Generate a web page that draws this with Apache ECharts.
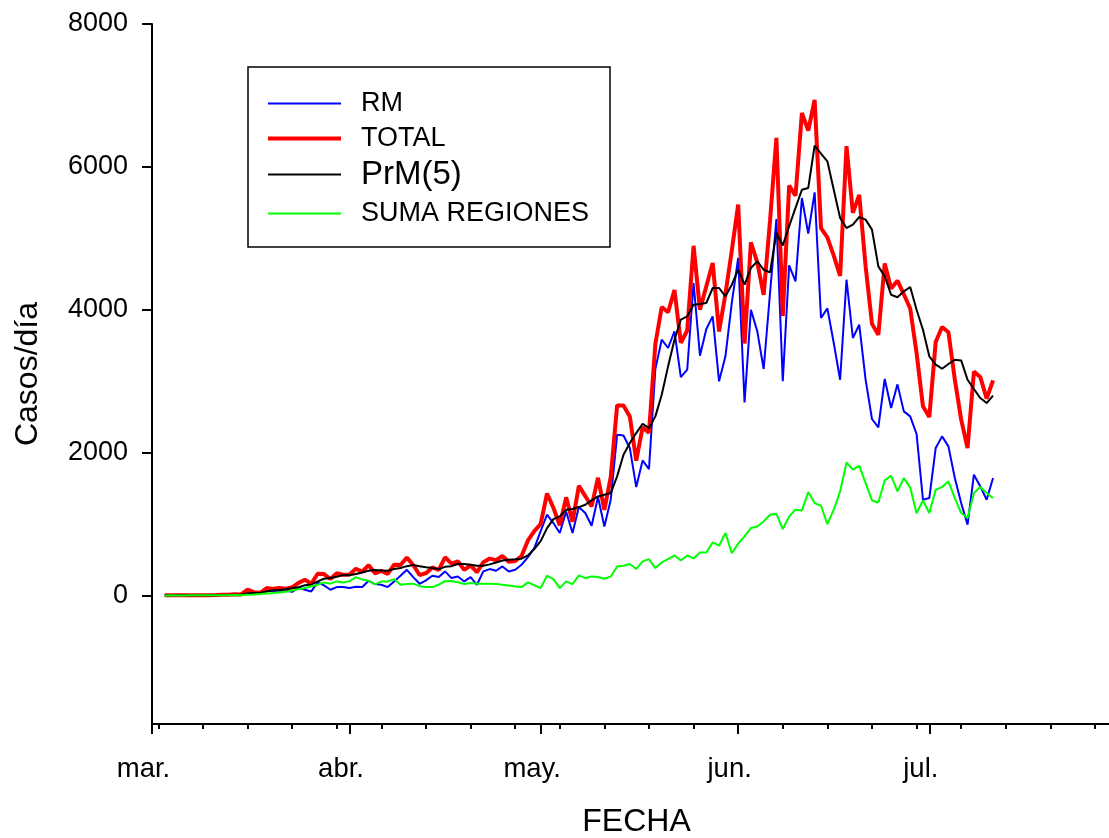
<!DOCTYPE html>
<html>
<head>
<meta charset="utf-8">
<script src="https://cdn.jsdelivr.net/npm/echarts@6/dist/echarts.min.js"></script>
<style>
  html, body { margin: 0; padding: 0; background: #fff; }
  #chart { width: 1109px; height: 838px; }
</style>
</head>
<body>
<div id="chart"></div>
<script>
// Casos diarios COVID-19, 3 de marzo a 11 de julio
const origen = '2020-03-01';
const fechaInicio = '2020-03-03';

const rm = [
  1, 1, 1, 1, 1, 2, 2, 3, 4, 7, 8, 12, 10, 55, 33, 28, 75, 60, 70, 65,
  50, 110, 80, 56, 182, 140, 80, 117, 117, 103, 120, 117, 205, 159, 149, 117, 196, 275, 359, 257,
  163, 210, 275, 257, 336, 243, 266, 196, 257, 149, 336, 369, 345, 406, 336, 359, 429, 537, 663, 900,
  1130, 1013, 873, 1176, 873, 1237, 1153, 976, 1377, 966, 1340, 2250, 2240, 2063, 1517, 1890, 1769, 3170, 3580, 3464,
  3697, 3057, 3160, 4374, 3357, 3730, 3907, 2997, 3347, 4100, 4724, 2703, 4000, 3697, 3170, 4234, 5270, 3000, 4622, 4397,
  5564, 5065, 5644, 3884, 4019, 3534, 3020, 4420, 3604, 3790, 3020, 2470, 2353, 3030, 2623, 2955, 2577, 2507, 2260, 1340,
  1363, 2063, 2227, 2087, 1643, 1293, 990, 1690, 1526, 1340, 1643
];

const total = [
  1, 2, 1, 1, 2, 3, 3, 4, 6, 10, 10, 18, 14, 80, 46, 37, 104, 92, 103, 95,
  114, 176, 220, 164, 304, 299, 230, 310, 289, 293, 373, 333, 424, 310, 344, 301, 430, 426, 529, 426,
  286, 312, 392, 356, 534, 445, 478, 358, 419, 325, 464, 516, 494, 552, 473, 482, 552, 770, 900, 1000,
  1427, 1228, 980, 1373, 1032, 1533, 1391, 1247, 1647, 1197, 1658, 2660, 2659, 2502, 1886, 2353, 2278, 3520, 4038, 3964,
  4276, 3536, 3709, 4895, 4000, 4328, 4654, 3695, 4220, 4830, 5471, 3527, 4942, 4664, 4207, 5246, 6405, 3913, 5737, 5596,
  6754, 6509, 6938, 5143, 5013, 4757, 4475, 6290, 5355, 5607, 4608, 3804, 3649, 4648, 4296, 4406, 4216, 4017, 3394, 2650,
  2498, 3548, 3758, 3685, 3025, 2462, 2064, 3133, 3058, 2755, 3012
];

const prm5 = [
  1, 1, 1, 1, 2, 2, 2, 3, 4, 5, 7, 10, 12, 27, 34, 39, 56, 72, 76, 86,
  102, 116, 142, 154, 196, 233, 243, 261, 286, 284, 300, 322, 345, 355, 350, 345, 370, 385, 410, 425,
  410, 395, 385, 370, 400, 410, 440, 440, 430, 415, 415, 435, 460, 490, 500, 505, 515, 560, 650, 760,
  943, 1069, 1106, 1200, 1209, 1237, 1270, 1330, 1386, 1410, 1433, 1667, 1970, 2133, 2273, 2404, 2343, 2507, 2810, 3207,
  3580, 3860, 3907, 4070, 4080, 4094, 4304, 4304, 4187, 4350, 4560, 4350, 4584, 4677, 4560, 4523, 5075, 4900, 5168, 5425,
  5680, 5705, 6297, 6185, 6078, 5680, 5284, 5144, 5190, 5298, 5261, 5121, 4607, 4467, 4210, 4175, 4257, 4318, 4000, 3720,
  3347, 3230, 3174, 3240, 3300, 3290, 3020, 2890, 2763, 2693, 2796
];

const sumaRegiones = [
  0, 1, 0, 0, 1, 1, 1, 1, 2, 3, 2, 6, 4, 10, 12, 19, 28, 34, 42, 50,
  70, 88, 103, 126, 150, 182, 165, 196, 182, 200, 257, 222, 205, 155, 196, 196, 229, 150, 161, 165,
  130, 117, 117, 150, 200, 203, 185, 161, 173, 163, 163, 163, 159, 149, 140, 126, 117, 182, 142, 103,
  276, 229, 103, 196, 159, 280, 243, 266, 257, 233, 266, 406, 415, 439, 369, 476, 509, 383, 462, 509,
  560, 490, 560, 518, 602, 602, 742, 696, 873, 590, 725, 826, 943, 966, 1036, 1129, 1143, 929, 1106, 1200,
  1190, 1447, 1293, 1256, 999, 1200, 1456, 1862, 1760, 1816, 1573, 1330, 1302, 1610, 1676, 1457, 1643, 1510, 1150, 1330,
  1153, 1480, 1517, 1597, 1363, 1153, 1083, 1433, 1517, 1433, 1363
];

const nombresSeries = ['RM', 'TOTAL', 'PrM(5)', 'SUMA REGIONES'];
const meses = ['mar.', 'abr.', 'may.', 'jun.', 'jul.'];
const inicioMeses = ['2020-03-01', '2020-04-01', '2020-05-01', '2020-06-01', '2020-07-01'];
const primeraSemana = '2020-03-02';
const ticksY = [0, 2000, 4000, 6000, 8000];

// Días contados desde el 1 de marzo
function dia(fecha) {
  return Math.round((Date.parse(fecha + 'T00:00:00Z') - Date.parse(origen + 'T00:00:00Z')) / 86400000);
}
const d0 = dia(fechaInicio);
const xMin = 0, xMax = 150.2;
const ticksMes = inicioMeses.map(dia);
const ticksSemana = [];
for (let d = dia(primeraSemana); d <= xMax; d += 7) ticksSemana.push(d);
const etiquetaMes = {};
ticksMes.forEach((d, i) => { etiquetaMes[d] = meses[i]; });

const serie = arr => arr.map((v, i) => [d0 + i, v]);

const fuente = '"Liberation Sans", Arial, sans-serif';
const chart = echarts.init(document.getElementById('chart'), null, { renderer: 'canvas' });

const estilos = [
  { color: '#0000ff', width: 2 },
  { color: '#ff0000', width: 4 },
  { color: '#000000', width: 2 },
  { color: '#00ff00', width: 2 }
];
const valores = [rm, total, prm5, sumaRegiones];
// Leyenda: centro vertical de cada fila, grosor de la muestra y tamaño del texto
const centrosLeyenda = [102, 137, 174, 212];
const grosorLeyenda = [2, 4, 2, 2];
const tamanoLeyenda = [27, 27, 33, 27];

chart.setOption({
  animation: false,
  backgroundColor: '#ffffff',
  grid: { left: 152, right: 0, top: 24, height: 700, containLabel: false, outerBoundsMode: 'none' },
  xAxis: [
    {
      type: 'value', min: xMin, max: xMax,
      name: 'FECHA', nameLocation: 'middle', nameGap: 82,
      nameTextStyle: { fontFamily: fuente, fontSize: 32, color: '#000', padding: [0, 0, 0, 12] },
      axisLine: { show: true, onZero: false, lineStyle: { color: '#000', width: 2 } },
      axisTick: { show: true, length: 10, lineStyle: { color: '#000', width: 2 }, customValues: ticksMes },
      axisLabel: {
        show: true, customValues: ticksMes, margin: 31,
        fontFamily: fuente, fontSize: 27.5, color: '#000', padding: [0, 17, 0, 0],
        formatter: v => etiquetaMes[Math.round(v)] || ''
      },
      splitLine: { show: false }
    },
    {
      type: 'value', min: xMin, max: xMax, position: 'bottom',
      axisLine: { show: false, onZero: false },
      axisTick: { show: true, length: 5, lineStyle: { color: '#000', width: 2 }, customValues: ticksSemana },
      axisLabel: { show: false },
      splitLine: { show: false }
    }
  ],
  yAxis: {
    type: 'value', min: -1800, max: 8000,
    name: 'Casos/día', nameLocation: 'middle', nameGap: 108, nameRotate: 90,
    nameTextStyle: { fontFamily: fuente, fontSize: 32, color: '#000' },
    axisLine: { show: true, onZero: false, lineStyle: { color: '#000', width: 2 } },
    axisTick: { show: true, length: 10, lineStyle: { color: '#000', width: 2 }, customValues: ticksY },
    axisLabel: {
      show: true, customValues: ticksY, margin: 24,
      fontFamily: fuente, fontSize: 27, color: '#000',
      formatter: v => String(v)
    },
    splitLine: { show: false }
  },
  legend: nombresSeries.map((n, i) => ({
    data: [n],
    orient: 'vertical',
    left: 268,
    top: centrosLeyenda[i] - (tamanoLeyenda[i] > 30 ? 16 : 12),
    padding: 0,
    icon: 'rect',
    itemWidth: 73,
    itemHeight: grosorLeyenda[i],
    selectedMode: false,
    textStyle: {
      fontFamily: fuente,
      fontSize: tamanoLeyenda[i],
      color: '#000',
      padding: [0, 0, 0, 15]
    }
  })),
  graphic: [{
    type: 'rect', z: 0,
    shape: { x: 248, y: 67, width: 362, height: 180 },
    style: { fill: '#ffffff', stroke: '#000000', lineWidth: 1.5 }
  }],
  series: nombresSeries.map((n, i) => ({
    name: n,
    type: 'line',
    data: serie(valores[i]),
    symbol: 'none',
    showSymbol: false,
    lineStyle: { color: estilos[i].color, width: estilos[i].width },
    itemStyle: { color: estilos[i].color },
    z: 2 + i
  }))
});
</script>
</body>
</html>
